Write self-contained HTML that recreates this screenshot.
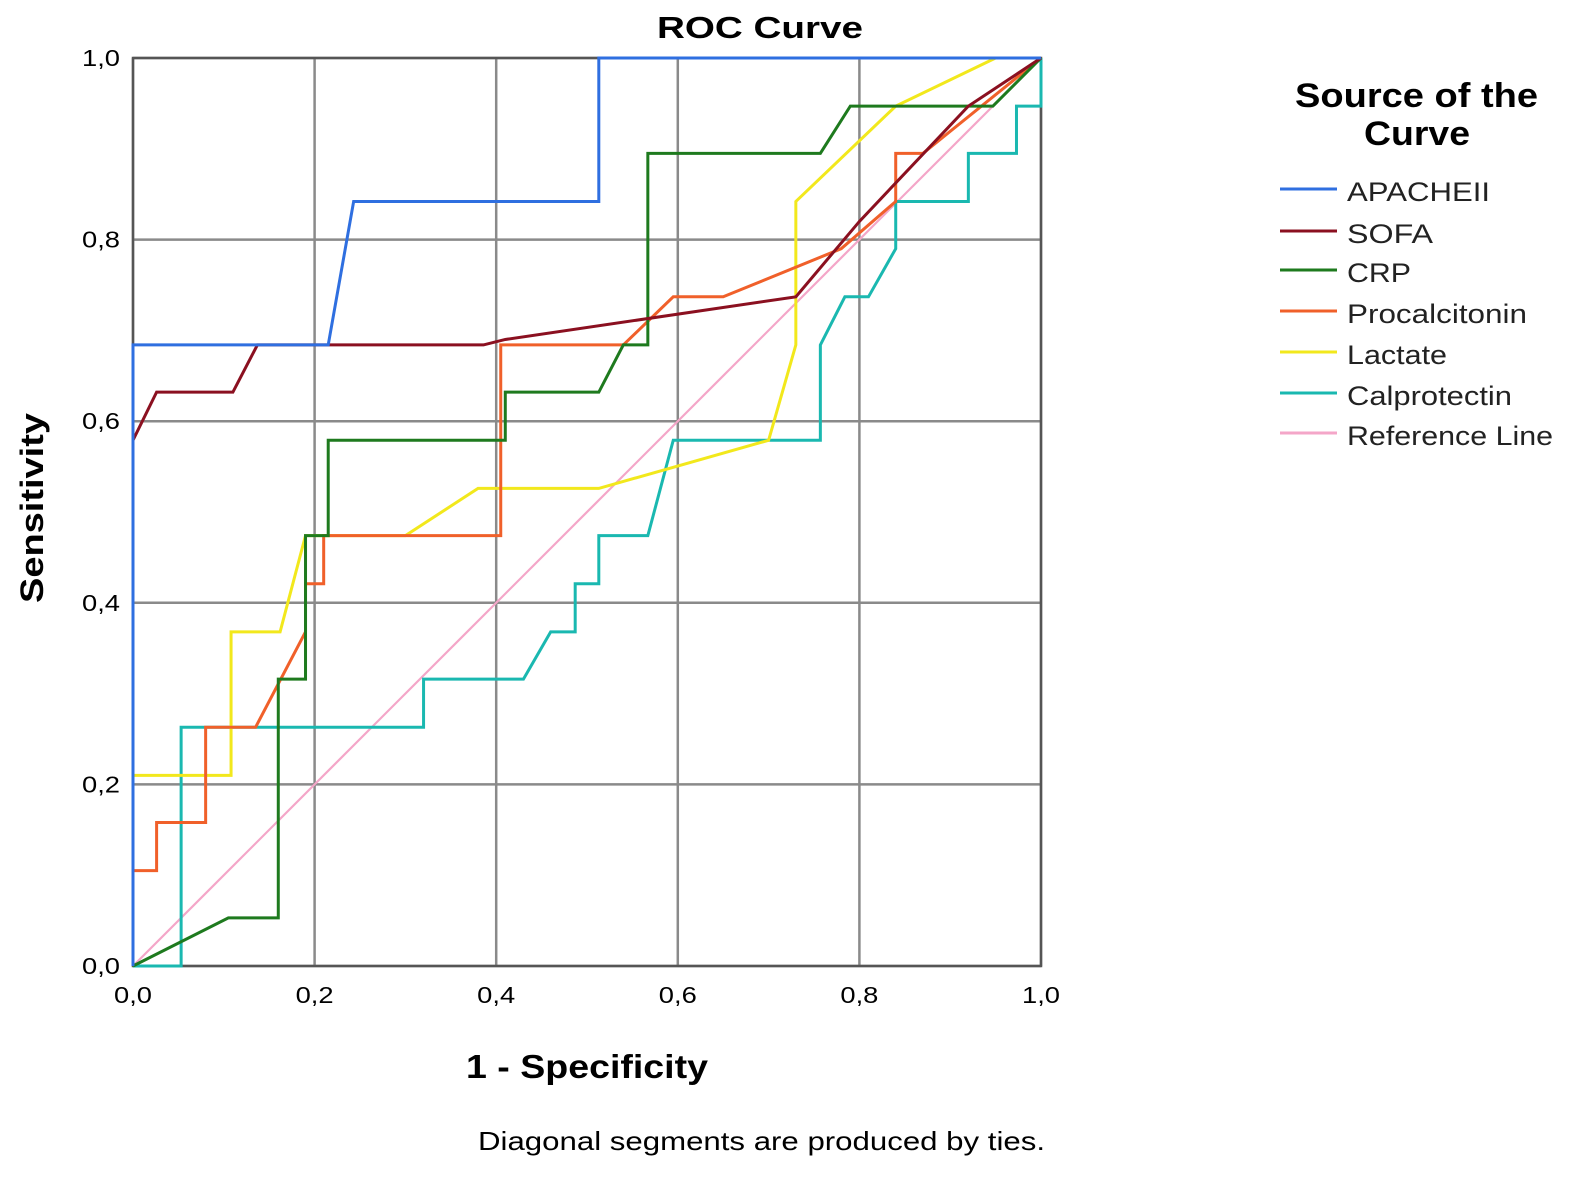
<!DOCTYPE html>
<html><head><meta charset="utf-8"><style>
body{margin:0;background:#fff;}
svg{display:block;font-family:"Liberation Sans",Arial,sans-serif;}
</style></head><body>
<svg id="chart" width="1595" height="1193" viewBox="0 0 1595 1193">
<text x="657" y="38" textLength="206" lengthAdjust="spacingAndGlyphs" font-size="31" font-weight="bold">ROC Curve</text>
<g id="grid"></g>
<g id="series"></g>
<g id="ticks"></g>
<text transform="translate(43,603) rotate(-90)" textLength="190" lengthAdjust="spacingAndGlyphs" font-size="32" font-weight="bold">Sensitivity</text>
<text x="466" y="1078" textLength="242" lengthAdjust="spacingAndGlyphs" font-size="33" font-weight="bold">1 - Specificity</text>
<text x="478" y="1150" textLength="567" lengthAdjust="spacingAndGlyphs" font-size="26">Diagonal segments are produced by ties.</text>
<text x="1295" y="107" textLength="243" lengthAdjust="spacingAndGlyphs" font-size="34" font-weight="bold">Source of the</text>
<text x="1364" y="145" textLength="106" lengthAdjust="spacingAndGlyphs" font-size="34" font-weight="bold">Curve</text>
<g id="legend"></g>
</svg>
<script>
const xTicks=[0,0.2,0.4,0.6,0.8,1.0];
const tickLabels=["0,0","0,2","0,4","0,6","0,8","1,0"];
const names=["APACHEII","SOFA","CRP","Procalcitonin","Lactate","Calprotectin","Reference Line"];
const legendWidths=[143,86,64,180,100,165,206];
const colors=["#2f6fe0","#8b1020","#1e7a1e","#f0602a","#f2e81c","#1ab8b0","#f4a6c8"];
const apache=[[0,0],[0,0.684],[0.215,0.684],[0.243,0.842],[0.513,0.842],[0.513,1],[1,1]];
const sofa=[[0,0],[0,0.579],[0.026,0.632],[0.11,0.632],[0.137,0.684],[0.386,0.684],[0.41,0.69],[0.73,0.737],[0.8,0.82],[0.92,0.947],[1,1]];
const crp=[[0,0],[0.105,0.053],[0.16,0.053],[0.16,0.316],[0.19,0.316],[0.19,0.474],[0.215,0.474],[0.215,0.579],[0.41,0.579],[0.41,0.632],[0.513,0.632],[0.54,0.684],[0.567,0.684],[0.567,0.895],[0.757,0.895],[0.79,0.947],[0.947,0.947],[1,1]];
const pct=[[0,0],[0,0.105],[0.026,0.105],[0.026,0.158],[0.08,0.158],[0.08,0.263],[0.135,0.263],[0.19,0.368],[0.19,0.421],[0.21,0.421],[0.21,0.474],[0.405,0.474],[0.405,0.684],[0.54,0.684],[0.595,0.737],[0.65,0.737],[0.78,0.79],[0.84,0.842],[0.84,0.895],[0.87,0.895],[1,1]];
const lactate=[[0,0],[0,0.21],[0.108,0.21],[0.108,0.368],[0.162,0.368],[0.19,0.474],[0.3,0.474],[0.38,0.526],[0.513,0.526],[0.7,0.579],[0.73,0.684],[0.73,0.842],[0.84,0.947],[0.95,1],[1,1]];
const calpro=[[0,0],[0.053,0],[0.053,0.263],[0.32,0.263],[0.32,0.316],[0.43,0.316],[0.46,0.368],[0.487,0.368],[0.487,0.421],[0.513,0.421],[0.513,0.474],[0.567,0.474],[0.595,0.579],[0.757,0.579],[0.757,0.684],[0.784,0.737],[0.81,0.737],[0.84,0.79],[0.84,0.842],[0.92,0.842],[0.92,0.895],[0.973,0.895],[0.973,0.947],[1,0.947],[1,1]];
const refLine=[[0,0],[1,1]];
const seriesData=[apache,sofa,crp,pct,lactate,calpro,refLine];
const seriesKeys=["apacheii","sofa","crp","procalcitonin","lactate","calprotectin","reference"];
const NS="http://www.w3.org/2000/svg";
const X0=133,X1=1041,Y0=966,Y1=58;
const sx=v=>X0+v*(X1-X0), sy=v=>Y0-v*(Y0-Y1);
function mk(t,a,p){const e=document.createElementNS(NS,t);for(const k in a)e.setAttribute(k,a[k]);p.appendChild(e);return e;}
const grid=document.getElementById('grid'),ticks=document.getElementById('ticks');
xTicks.forEach((t,i)=>{
 const gv=mk('line',{x1:sx(t),x2:sx(t),y1:Y1,y2:Y0,stroke:'#8a8a8a','stroke-width':2.5},grid);
 
 
 const gh=mk('line',{x1:X0,x2:X1,y1:sy(t),y2:sy(t),stroke:'#8a8a8a','stroke-width':2.5},grid);
 
 
 const tx=mk('text',{x:sx(t)-19,y:1003,textLength:38,lengthAdjust:'spacingAndGlyphs','font-size':23},ticks);
 tx.textContent=tickLabels[i];
 
 
 const ty=mk('text',{x:82,y:sy(t)+8,textLength:38,lengthAdjust:'spacingAndGlyphs','font-size':23},ticks);
 ty.textContent=tickLabels[i];
 
 
});
const frame=mk('rect',{x:X0,y:Y1,width:X1-X0,height:Y0-Y1,fill:'none',stroke:'#555','stroke-width':2.5},grid);


const sg=document.getElementById('series');
const order=[6,5,4,3,2,1,0];
order.forEach(i=>{
 const p=mk('polyline',{points:seriesData[i].map(d=>sx(d[0])+','+sy(d[1])).join(' '),fill:'none',stroke:colors[i],'stroke-width':i==6?2.2:3,'stroke-linejoin':'miter'},sg);
 
 
});
const lg=document.getElementById('legend');
const ly=[192,234,273,314,355,396,436];
names.forEach((n,i)=>{
 const l=mk('line',{x1:1280,x2:1337,y1:ly[i]-3,y2:ly[i]-3,stroke:colors[i],'stroke-width':3},lg);
 
 
 const t=mk('text',{x:1347,y:ly[i]+9,textLength:legendWidths[i],lengthAdjust:'spacingAndGlyphs','font-size':27,fill:'#222'},lg);
 t.textContent=n;
 
 
});
</script>
</body></html>
